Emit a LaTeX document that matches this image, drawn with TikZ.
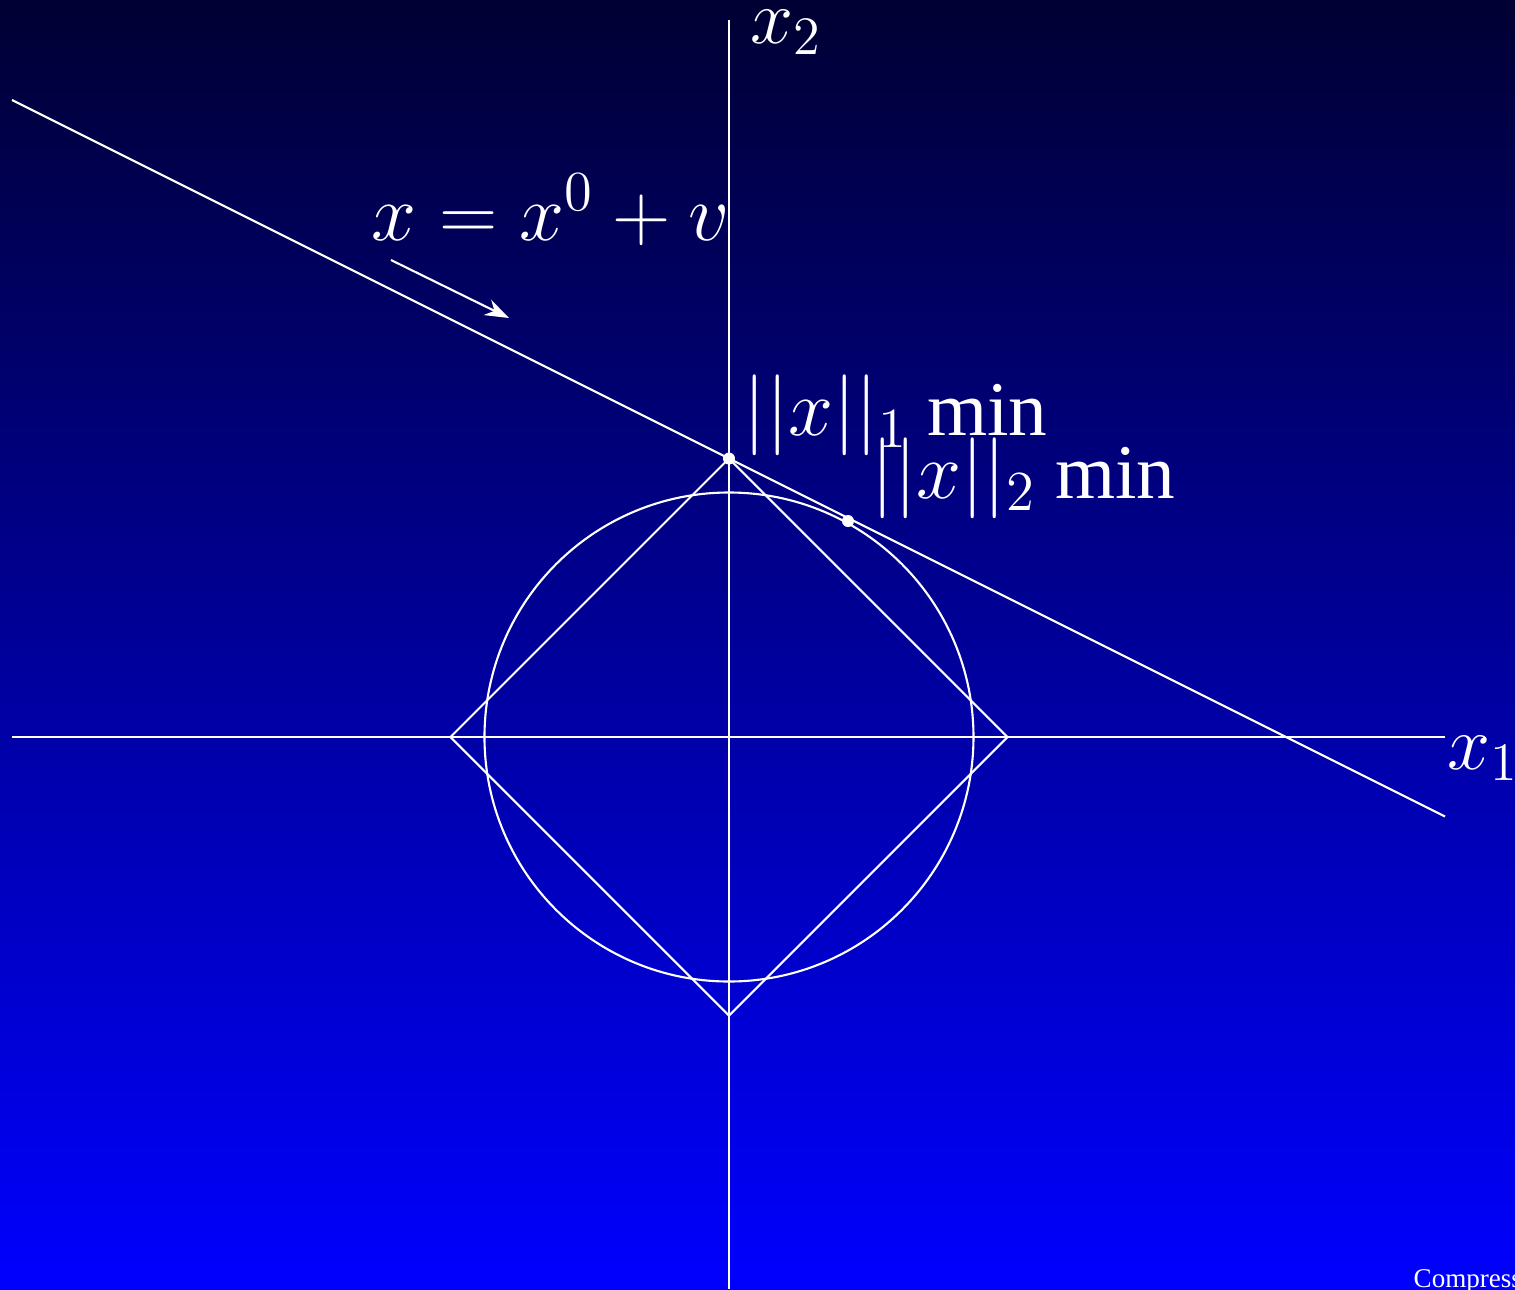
\RequirePackage{fix-cm}
\documentclass[tikz,border=0pt]{standalone}
\usepackage[no-math]{fontspec}
\setmainfont{Liberation Serif}
\usepackage{amsmath,amssymb}
\usepackage{tikz}
\usetikzlibrary{arrows.meta}
\usetikzlibrary{calc}
\definecolor{bgtop}{RGB}{0,0,51}
\definecolor{bgbot}{RGB}{0,0,255}
\newcommand{\bigmath}[1]{{\fontsize{23}{27}\selectfont$#1$}}
\tikzstyle{ln} = [draw=white, line width=0.6pt]
\tikzstyle{lbl} = [text=white, inner sep=0pt, anchor=base west, font=\fontsize{22}{26}\selectfont]
\tikzstyle{pt} = [circle, fill=white, inner sep=0pt, minimum size=1.2mm]

\begin{document}
\begin{tikzpicture}
    [scale=1]
    % background
    \shade[top color=bgtop, bottom color=bgbot] (-7.29,-5.52) rectangle (7.86,7.37);
    \useasboundingbox (-7.29,-5.52) rectangle (7.86,7.37);
    % axes
    \draw[ln] (-7.17,0) -- (7.16,0);
    \draw[ln] (0,-5.52) -- (0,7.17);
    \node[lbl] (xone) at (7.18,-0.32) {$x_1$};
    \node[lbl] (xtwo) at (0.21,6.94) {$x_2$};
    % unit balls
    \draw[ln] (0,0) circle [radius=2.445];
    \draw[ln] (-2.785,0) -- (0,-2.785) -- (2.785,0) -- (0,2.785) -- cycle;
    % solution line
    \coordinate (lineL) at (-7.17,6.37);
    \coordinate (lineR) at (7.16,-0.795);
    \draw[ln] (lineL) -- (lineR);
    \node[lbl] (eqn) at (-3.58,4.97) {\bigmath{x = x^0 + v}};
    \coordinate (arrS) at (-3.38,4.77);
    \coordinate (arrE) at (-2.20,4.19);
    \draw[ln, -{Stealth[length=2.4mm,width=1.7mm]}] (arrS) -- (arrE);
    % minimum points
    \node[pt] (minone) at (0,2.785) {};
    \node[pt] (mintwo) at (1.19,2.16) {};
    \node[lbl] (labone) at (0.14,3.02) {\bigmath{||x||_1} min};
    \node[lbl] (labtwo) at (1.42,2.39) {\bigmath{||x||_2} min};
    % footer
    \node[lbl, font=\fontsize{7.7}{9}\selectfont] (foot) at (6.84,-5.50) {Compressed};
  \end{tikzpicture}
\end{document}
